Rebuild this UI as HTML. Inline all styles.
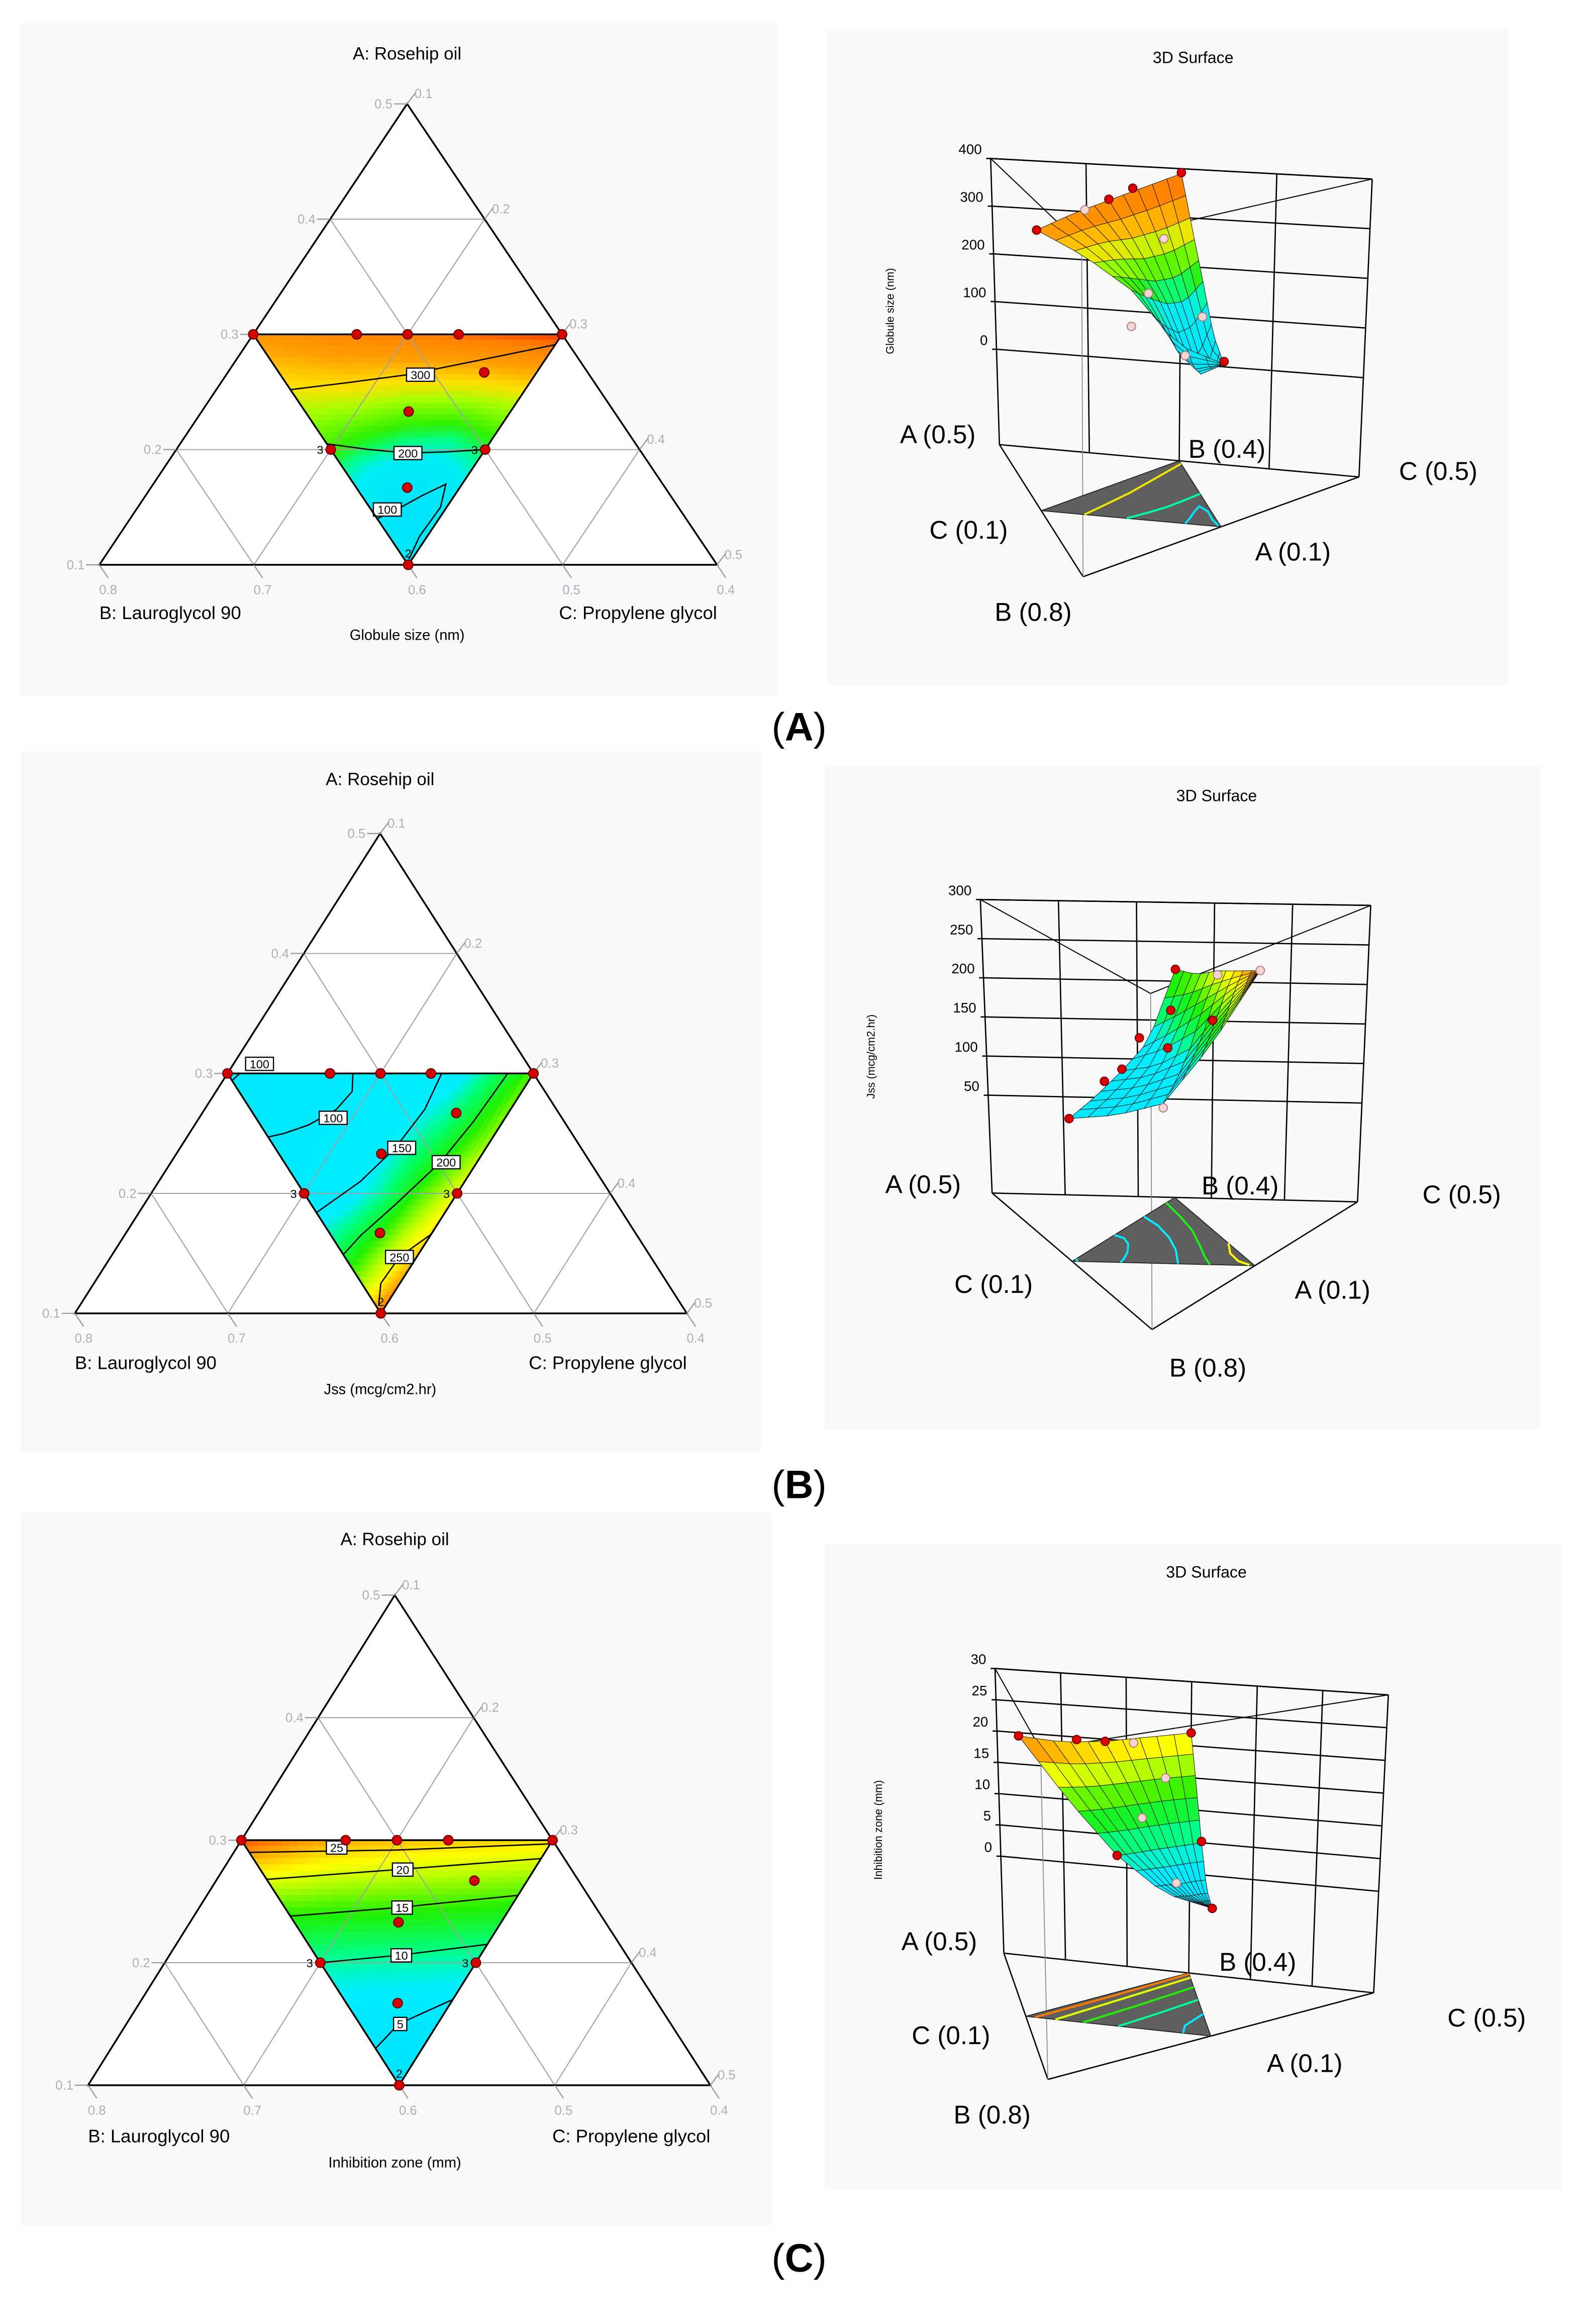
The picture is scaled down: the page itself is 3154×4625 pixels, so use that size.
<!DOCTYPE html>
<html><head><meta charset="utf-8"><title>Ternary contour and 3D surface plots</title>
<style>
html,body{margin:0;padding:0;background:#fff;}
svg{display:block;}
text{font-family:"Liberation Sans",Arial,sans-serif;}
</style></head>
<body>
<svg id="fig" xmlns="http://www.w3.org/2000/svg" width="3154" height="4625" viewBox="0 0 1080 1583.7" preserveAspectRatio="none">
<rect x="0" y="0" width="1080" height="1583.7" fill="#ffffff"/>
</svg>
<script>
// ---------- DATA ----------
const rowsA = [0.3, 0.25, 0.2, 0.15, 0.1];
const colsF = [0, 0.25, 0.5, 0.75, 1];
const globuleGrid = [[345,360,370,380,390],[300,300,290,290,300],[240,215,195,190,220],[140,90,70,90,140],[110]];
const jssGrid = [[95,105,120,140,215],[100,115,135,175,225],[115,135,165,210,245],[185,205,225,245,260],[275]];
const inhibGrid = [[26,24,23,22.5,22],[17,16.5,16.3,16,15.5],[9.5,9.3,9.2,9,8.8],[4.5,4.3,4,4,3.8],[3]];
const designA = [0.3,0.3,0.3,0.3,0.3,0.2,0.2,0.1,0.233,0.267,0.167];
const designB = [0.6,0.533,0.5,0.467,0.4,0.6,0.5,0.6,0.533,0.467,0.567];
const globuleResp = [345,362,372,383,392,170,150,115,205,285,105];
const jssResp = [95,118,122,150,215,110,240,275,160,185,205];
const inhibResp = [26,24,23,22,22,9.5,9,3,13,17,5];
const aTicks = [0.5,0.4,0.3,0.2,0.1];
const bTicks = [0.8,0.7,0.6,0.5,0.4];
const cTicks = [0.1,0.2,0.3,0.4,0.5];
const globuleZTicks = [0,100,200,300,400];
const jssZTicks = [50,100,150,200,250,300];
const inhibZTicks = [0,5,10,15,20,25,30];
const globuleLevels = ['300','200','100'];
const globuleContours = [
 [[0.252,0],[0.258,0.25],[0.265,0.5],[0.277,0.75],[0.291,1]],
 [[0.205,0],[0.2,0.25],[0.197,0.5],[0.198,0.75],[0.2,1]],
 [[0.14,0],[0.148,0.35],[0.16,0.65],[0.17,0.85],[0.15,0.92],[0.125,0.8],[0.105,0.6]]];
const globuleLabelPos = [[0.265,0.55],[0.197,0.5],[0.148,0.22]];
const jssLevels = ['100','100','150','200','250'];
const jssContours = [
 [[0.3,0.04],[0.294,0]],
 [[0.3,0.41],[0.285,0.4],[0.27,0.33],[0.257,0.2],[0.25,0.08],[0.247,0]],
 [[0.3,0.7],[0.27,0.67],[0.238,0.57],[0.21,0.38],[0.184,0]],
 [[0.3,0.916],[0.26,0.88],[0.226,0.81],[0.19,0.6],[0.165,0.3],[0.149,0]],
 [[0.166,1],[0.147,0.76],[0.125,0.5],[0.107,0.3]]];
const jssLabelPos = [[0.308,0.12],[0.263,0.31],[0.238,0.6],[0.226,0.84],[0.147,0.76]];
const inhibLevels = ['25','20','15','10','5'];
const inhibContours = [
 [[0.29,0],[0.292,0.5],[0.297,1]],
 [[0.268,0],[0.276,0.5],[0.285,1]],
 [[0.238,0],[0.245,0.5],[0.255,1]],
 [[0.2,0],[0.206,0.5],[0.215,1]],
 [[0.13,0],[0.15,0.5],[0.17,1]]];
const inhibLabelPos = [[0.294,0.3],[0.276,0.52],[0.245,0.52],[0.206,0.52],[0.15,0.52]];

// colour maps (value -> colour)
const globuleStops = [[0,'#00dcff'],[175,'#00eef5'],[205,'#00ff90'],[235,'#30f000'],[275,'#a0ff00'],[305,'#ffe000'],[335,'#ffa000'],[370,'#ff8000'],[395,'#ff2a00']];
const jssStops = [[0,'#00dcff'],[150,'#00f0ff'],[175,'#00ff70'],[205,'#20f000'],[235,'#c0ff00'],[250,'#ffff00'],[268,'#ffa000'],[285,'#ff3000']];
const inhibStops = [[0,'#00dcff'],[7,'#00eeff'],[10,'#00ff90'],[15,'#20f000'],[19,'#c0ff00'],[21,'#ffff00'],[24,'#ffa000'],[27,'#ff2a00']];

// ---------- HELPERS ----------
const NS = 'http://www.w3.org/2000/svg';
const svg = document.getElementById('fig');
function mk(tag, attrs, parent){ const e=document.createElementNS(NS,tag); for(const k in attrs) e.setAttribute(k,attrs[k]); (parent||svg).appendChild(e); return e; }
function hex2rgb(h){ return [parseInt(h.substr(1,2),16),parseInt(h.substr(3,2),16),parseInt(h.substr(5,2),16)]; }
function colorFor(stops, v){
  if(v<=stops[0][0]) return stops[0][1];
  for(let i=1;i<stops.length;i++){
    if(v<=stops[i][0]){
      const t=(v-stops[i-1][0])/(stops[i][0]-stops[i-1][0]);
      const a=hex2rgb(stops[i-1][1]), b=hex2rgb(stops[i][1]);
      return 'rgb('+a.map((x,j)=>Math.round(x+(b[j]-x)*t)).join(',')+')';
    }
  }
  return stops[stops.length-1][1];
}
function gridRow(grid,i){ return grid[i].length===1 ? colsF.map(()=>grid[i][0]) : grid[i]; }
function gridVal(grid,a,f){
  const step=rowsA[0]-rowsA[1];
  let r=(rowsA[0]-a)/step; let i0=Math.max(0,Math.min(rowsA.length-2,Math.floor(r))); let tr=r-i0;
  let c=f*(colsF.length-1); let j0=Math.max(0,Math.min(colsF.length-2,Math.floor(c))); let tc=c-j0;
  const R0=gridRow(grid,i0), R1=gridRow(grid,i0+1);
  const v0=R0[j0]+(R0[j0+1]-R0[j0])*tc, v1=R1[j0]+(R1[j0+1]-R1[j0])*tc;
  return v0+(v1-v0)*tr;
}
function mixAF(a,f){ return [a, 0.6+f*(0.1-a), 0.4-a+f*(a-0.1)]; }
function fOf(a,b){ return Math.abs(a-0.1)<1e-6 ? 0 : (b-0.6)/(0.1-a); }
function weights(m){ return [(m[0]-0.1)/0.4,(m[1]-0.4)/0.4,(m[2]-0.1)/0.4]; }
function ternXY(T,m){ const w=weights(m); return [w[0]*T.apex[0]+w[1]*T.bl[0]+w[2]*T.br[0], w[0]*T.apex[1]+w[1]*T.bl[1]+w[2]*T.br[1]]; }
function fmt(p){ return p[0].toFixed(2)+','+p[1].toFixed(2); }

// ---------- TERNARY CONTOUR PLOT ----------
function drawTernary(T, grid, stops, levels, contours, labelPos, resp, name){
  const g=mk('g',{});
  
  
  const bg=mk('rect',{x:T.bg[0],y:T.bg[1],width:T.bg[2],height:T.bg[3],fill:'#f9f9f9'},g);
  
  
  const outer=mk('polygon',{points:[T.apex,T.bl,T.br].map(fmt).join(' '),fill:'#ffffff',stroke:'none'},g);
  
  
  const fill=mk('g',{},g);
  
  
  const N=40;
  for(let i=0;i<N;i++){
    const a0=0.3-0.2*i/N, a1=0.3-0.2*(i+1)/N;
    for(let j=0;j<N;j++){
      const f0=j/N, f1=(j+1)/N;
      const pts=[ternXY(T,mixAF(a0,f0)),ternXY(T,mixAF(a0,f1)),ternXY(T,mixAF(a1,f1)),ternXY(T,mixAF(a1,f0))];
      const col=colorFor(stops,gridVal(grid,(a0+a1)/2,(f0+f1)/2));
      const cell=mk('polygon',{points:pts.map(fmt).join(' '),fill:col,stroke:col,'stroke-width':0.5},fill);
      
      
    }
  }
  const gl=mk('g',{stroke:'#a0a0a0','stroke-width':0.7,fill:'none'},g);
  
  
  [0.2,0.3,0.4].forEach(a=>{ const p=ternXY(T,[a,0.9-a,0.1]), q=ternXY(T,[a,0.4,0.6-a]); const l=mk('line',{x1:p[0],y1:p[1],x2:q[0],y2:q[1]},gl);   });
  [0.5,0.6,0.7].forEach(b=>{ const p=ternXY(T,[0.1,b,0.9-b]), q=ternXY(T,[0.9-b,b,0.1]); const l=mk('line',{x1:p[0],y1:p[1],x2:q[0],y2:q[1]},gl);   });
  [0.2,0.3,0.4].forEach(c=>{ const p=ternXY(T,[0.1,0.9-c,c]), q=ternXY(T,[0.6-c,0.4,c]); const l=mk('line',{x1:p[0],y1:p[1],x2:q[0],y2:q[1]},gl);   });
  contours.forEach((cpts,k)=>{
    const d=cpts.map((p,i)=>(i?'L':'M')+fmt(ternXY(T,mixAF(p[0],p[1])))).join(' ');
    const path=mk('path',{d:d,fill:'none',stroke:'#000','stroke-width':0.9},g);
    
    
  });
  contours.forEach((cpts,k)=>{
    const p=ternXY(T,mixAF(labelPos[k][0],labelPos[k][1]));
    const w=levels[k].length*5+4;
    const r=mk('rect',{x:p[0]-w/2,y:p[1]-4.5,width:w,height:9,fill:'#fff',stroke:'#000','stroke-width':0.8},g);
    
    
    const t=mk('text',{x:p[0],y:p[1]+3,'font-size':8,'text-anchor':'middle',fill:'#000'},g);
    t.textContent=levels[k];
    
    
  });
  const inner=mk('polygon',{points:[mixAF(0.3,0),mixAF(0.3,1),mixAF(0.1,0)].map(m=>fmt(ternXY(T,m))).join(' '),fill:'none',stroke:'#000','stroke-width':1.2},g);
  
  
  const ot=mk('polygon',{points:[T.apex,T.bl,T.br].map(fmt).join(' '),fill:'none',stroke:'#000','stroke-width':1.2},g);
  
  
  const tickCol='#9a9a9a', labCol='#aab0b8';
  aTicks.forEach(a=>{ const p=ternXY(T,[a,0.9-a,0.1]);
    const l=mk('line',{x1:p[0],y1:p[1],x2:p[0]-9,y2:p[1],stroke:tickCol,'stroke-width':0.8},g);
     
    const t=mk('text',{x:p[0]-10,y:p[1]+3,'font-size':8.8,'text-anchor':'end',fill:labCol},g); t.textContent=a.toFixed(1);
      });
  cTicks.forEach(c=>{ const p=ternXY(T,[0.6-c,0.4,c]);
    const l=mk('line',{x1:p[0],y1:p[1],x2:p[0]+6,y2:p[1]-8,stroke:tickCol,'stroke-width':0.8},g);
     
    const t=mk('text',{x:p[0]+5,y:p[1]-4,'font-size':8.8,'text-anchor':'start',fill:labCol},g); t.textContent=c.toFixed(1);
      });
  bTicks.forEach(b=>{ const p=ternXY(T,[0.1,b,0.9-b]);
    const l=mk('line',{x1:p[0],y1:p[1],x2:p[0]+6,y2:p[1]+9,stroke:tickCol,'stroke-width':0.8},g);
     
    const t=mk('text',{x:p[0]+6,y:p[1]+20,'font-size':8.8,'text-anchor':'middle',fill:labCol},g); t.textContent=b.toFixed(1);
      });
  designA.forEach((a,i)=>{ const p=ternXY(T,[a,designB[i],1-a-designB[i]]);
    const c=mk('circle',{cx:p[0],cy:p[1],r:3.3,fill:'#d40000',stroke:'#500','stroke-width':0.6},g);
      });
  const m1=ternXY(T,[0.2,0.6,0.2]), m2=ternXY(T,[0.2,0.5,0.3]), v=ternXY(T,[0.1,0.6,0.3]);
  [[m1,'3',-5,3,'end'],[m2,'3',-5,3,'end'],[v,'2',0,-5,'middle']].forEach(q=>{
    const t=mk('text',{x:q[0][0]+q[2],y:q[0][1]+q[3],'font-size':8,'text-anchor':q[4],fill:'#000'},g); t.textContent=q[1];
      });
  const tt=mk('text',{x:T.apex[0],y:T.titleY,'font-size':12,'text-anchor':'middle',fill:'#000'},g); tt.textContent='A: Rosehip oil';
   
  const tb=mk('text',{x:T.bl[0],y:T.labY,'font-size':12.5,'text-anchor':'start',fill:'#000'},g); tb.textContent='B: Lauroglycol 90';
   
  const tc=mk('text',{x:T.br[0],y:T.labY,'font-size':12.5,'text-anchor':'end',fill:'#000'},g); tc.textContent='C: Propylene glycol';
   
  const tx=mk('text',{x:T.apex[0],y:T.xlabY,'font-size':10,'text-anchor':'middle',fill:'#000'},g); tx.textContent=T.resp;
   
}

// ---------- 3D SURFACE ----------
function proj(S,m,z){
  const w=weights(m), t=(z-S.zmin)/(S.zmax-S.zmin);
  const fx=w[0]*S.Lf[0]+w[1]*S.Ff[0]+w[2]*S.Rf[0], fy=w[0]*S.Lf[1]+w[1]*S.Ff[1]+w[2]*S.Rf[1];
  const tx=w[0]*S.Lt[0]+w[1]*S.Ft[0]+w[2]*S.Rt[0], ty=w[0]*S.Lt[1]+w[1]*S.Ft[1]+w[2]*S.Rt[1];
  return [fx+(tx-fx)*t, fy+(ty-fy)*t];
}
function lerp2(p,q,t){ return [p[0]+(q[0]-p[0])*t,p[1]+(q[1]-p[1])*t]; }
function drawSurface(S, grid, stops, levels, contours, resp, zTicks, name){
  const g=mk('g',{});
  
  
  const bg=mk('rect',{x:S.bg[0],y:S.bg[1],width:S.bg[2],height:S.bg[3],fill:'#f9f9f9'},g);
  
  
  const tt=mk('text',{x:S.title[0],y:S.title[1],'font-size':11,'text-anchor':'middle',fill:'#000'},g); tt.textContent='3D Surface';
   
  const lineAttrs={stroke:'#000','stroke-width':0.9};
  function L(p,q,nm,extra){ const l=mk('line',Object.assign({x1:p[0],y1:p[1],x2:q[0],y2:q[1]},lineAttrs,extra||{}),g);   return l; }
  for(let k=1;k<S.cols;k++){ const t=k/S.cols; L(lerp2(S.Lf,S.Rf,t),lerp2(S.Lt,S.Rt,t),'back-wall-grid-line'); }
  zTicks.forEach(z=>{ const p=proj(S,[0.5,0.4,0.1],z), q=proj(S,[0.1,0.4,0.5],z); L(p,q,'z-grid-line');
    L(p,[p[0]-3,p[1]],'z-tick');
    const t=mk('text',{x:p[0]-6,y:p[1]-3,'font-size':9.5,'text-anchor':'end',fill:'#000'},g); t.textContent=String(z);
      });
  L(S.Lf,S.Lt,'box-edge'); L(S.Rf,S.Rt,'box-edge'); L(S.Lt,S.Rt,'box-edge'); L(S.Lf,S.Rf,'box-edge');
  L(S.Lf,S.Ff,'box-edge'); L(S.Ff,S.Rf,'box-edge'); L(S.Lt,S.Ft,'box-edge',{'stroke-width':0.7}); L(S.Ft,S.Rt,'box-edge',{'stroke-width':0.7});
  L(S.Ff,S.Ft,'box-edge',{stroke:'#888','stroke-width':0.6});
  const fl=mk('polygon',{points:[mixAF(0.3,0),mixAF(0.3,1),mixAF(0.1,0)].map(m=>fmt(proj(S,m,S.zmin))).join(' '),fill:'#5f5f5f',stroke:'#222','stroke-width':0.6},g);
   
  contours.forEach((cpts,k)=>{
    const d=cpts.map((p,i)=>(i?'L':'M')+fmt(proj(S,mixAF(p[0],p[1]),S.zmin))).join(' ');
    const col=colorFor(stops,parseFloat(levels[k]));
    const path=mk('path',{d:d,fill:'none',stroke:col,'stroke-width':1.4},g);
     
  });
  const N=10, quads=[];
  for(let i=0;i<N;i++){ const a0=0.3-0.2*i/N, a1=0.3-0.2*(i+1)/N;
    for(let j=0;j<N;j++){ const f0=j/N, f1=(j+1)/N;
      const cs=[[a0,f0],[a0,f1],[a1,f1],[a1,f0]];
      const zs=cs.map(c=>gridVal(grid,c[0],c[1]));
      const pts=cs.map((c,k)=>proj(S,mixAF(c[0],c[1]),zs[k]));
      const depth=proj(S,mixAF((a0+a1)/2,(f0+f1)/2),S.zmin)[1];
      quads.push({pts:pts,z:(zs[0]+zs[1]+zs[2]+zs[3])/4,depth:depth});
    } }
  quads.sort((p,q)=>p.depth-q.depth);
  const sg=mk('g',{},g);
   
  quads.forEach(q=>{ const col=colorFor(stops,q.z);
    const p=mk('polygon',{points:q.pts.map(fmt).join(' '),fill:col,stroke:'#1a1a1a','stroke-width':0.35},sg);
      });
  designA.forEach((a,i)=>{ const b=designB[i]; const m=[a,b,1-a-b];
    const surf=gridVal(grid,a,fOf(a,b)); const p=proj(S,m,resp[i]); const above=resp[i]>=surf;
    const c=mk('circle',{cx:p[0],cy:p[1],r:2.9,fill:above?'#dd0000':'#f6d4d4',stroke:above?'#600':'#a77','stroke-width':0.6},g);
      });
  S.labels.forEach(l=>{ const t=mk('text',{x:l[1],y:l[2],'font-size':17.5,'text-anchor':'middle',fill:'#000'},g); t.textContent=l[0];
      });
  const yt=mk('text',{x:S.ytitle[0],y:S.ytitle[1],'font-size':7.5,'text-anchor':'middle',fill:'#000',transform:'rotate(-90 '+S.ytitle[0]+' '+S.ytitle[1]+')'},g);
  yt.textContent=S.yname;
   
}

// ---------- LAYOUT ----------
const ternA={apex:[277.4,70.8],bl:[67.7,384.9],br:[488.6,384.9],bg:[13.7,15.4,516,459.6],titleY:40.5,labY:421.8,xlabY:436,resp:'Globule size (nm)'};
const ternB={apex:[259,568],bl:[51,895],br:[468,895],bg:[14,512,504,478],titleY:535,labY:933,xlabY:950,resp:'Jss (mcg/cm2.hr)'};
const ternC={apex:[269,1087],bl:[60,1421],br:[484,1421],bg:[14,1031,512,486],titleY:1053,labY:1460,xlabY:1477,resp:'Inhibition zone (mm)'};
drawTernary(ternA,globuleGrid,globuleStops,globuleLevels,globuleContours,globuleLabelPos,globuleResp,'globule-size');
drawTernary(ternB,jssGrid,jssStops,jssLevels,jssContours,jssLabelPos,jssResp,'jss');
drawTernary(ternC,inhibGrid,inhibStops,inhibLevels,inhibContours,inhibLabelPos,inhibResp,'inhibition-zone');

const surfA={Lf:[681,303],Lt:[675,108],Ff:[738,393],Ft:[737,167],Rf:[926,325],Rt:[935,122],zmin:-200,zmax:400,cols:4,
  bg:[564,20,464,447],title:[813,43],ytitle:[609,212],yname:'Globule size (nm)',
  labels:[['A (0.5)',639,302],['B (0.4)',836,312],['C (0.5)',980,327],['C (0.1)',660,367],['A (0.1)',881,382],['B (0.8)',704,423]]};
const surfB={Lf:[676,813],Lt:[668,613],Ff:[785,906],Ft:[784,677],Rf:[925,819],Rt:[934,617],zmin:-75,zmax:300,cols:5,
  bg:[562,522,488,452],title:[829,546],ytitle:[596,720],yname:'Jss (mcg/cm2.hr)',
  labels:[['A (0.5)',629,813],['B (0.4)',845,814],['C (0.5)',996,820],['C (0.1)',677,881],['A (0.1)',908,885],['B (0.8)',823,938]]};
const surfC={Lf:[684,1331],Lt:[678,1137],Ff:[714,1417],Ft:[709,1192],Rf:[936,1358],Rt:[946,1155],zmin:-15.5,zmax:30,cols:6,
  bg:[562,1052,502,440],title:[822,1075],ytitle:[601,1247],yname:'Inhibition zone (mm)',
  labels:[['A (0.5)',640,1329],['B (0.4)',857,1343],['C (0.5)',1013,1381],['C (0.1)',648,1393],['A (0.1)',889,1412],['B (0.8)',676,1447]]};
drawSurface(surfA,globuleGrid,globuleStops,globuleLevels,globuleContours,globuleResp,globuleZTicks,'globule-size');
drawSurface(surfB,jssGrid,jssStops,jssLevels,jssContours,jssResp,jssZTicks,'jss');
drawSurface(surfC,inhibGrid,inhibStops,inhibLevels,inhibContours,inhibResp,inhibZTicks,'inhibition-zone');

[['A',504.5],['B',1021],['C',1548]].forEach(p=>{
  const t=mk('text',{x:544.5,y:p[1],'font-size':27,'text-anchor':'middle',fill:'#000','font-family':'Liberation Serif, serif'});
  
  
  const s1=mk('tspan',{},t); s1.textContent='(';
  const s2=mk('tspan',{'font-weight':'bold'},t); s2.textContent=p[0];
  const s3=mk('tspan',{},t); s3.textContent=')';
});
</script>
</body></html>
